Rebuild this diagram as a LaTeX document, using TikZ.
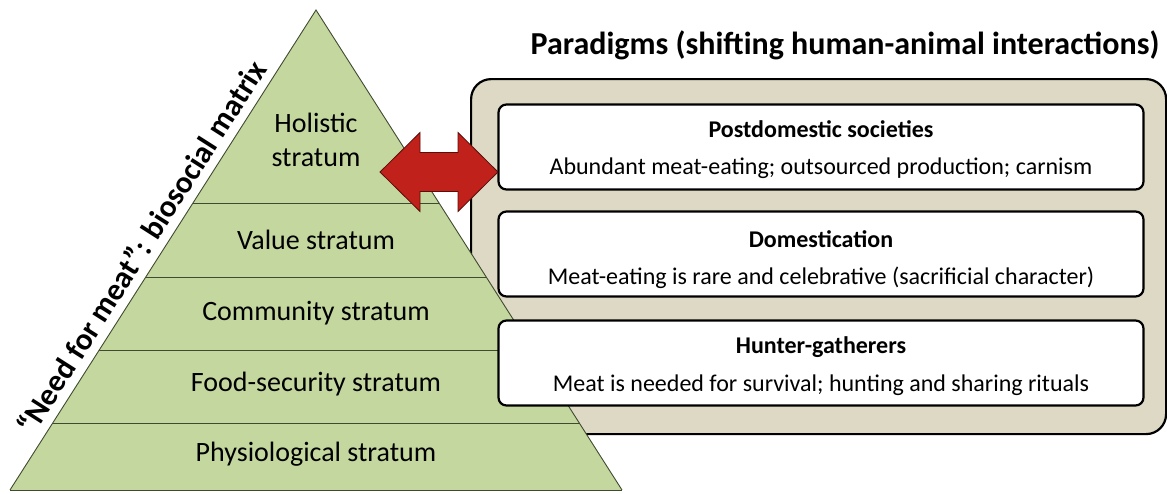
\documentclass[tikz,border=0pt]{standalone}
\usepackage{fontspec}
\setmainfont{Carlito}
\usetikzlibrary{calc}
\definecolor{pyrgreen}{HTML}{C4D79E}
\definecolor{tanbg}{HTML}{DDD9C4}
\definecolor{arrowred}{HTML}{C0211B}
\definecolor{arrowedge}{HTML}{5A0E0A}
\definecolor{pyrline}{HTML}{3F4A30}
\tikzset{
  framebox/.style={draw=black, line width=2.2pt, fill=tanbg, rounded corners=20pt, anchor=north west, inner sep=0pt},
  parbox/.style={draw=black, line width=2.2pt, fill=white, rounded corners=8pt, minimum width=645pt, minimum height=85pt, inner sep=0pt},
  partitle/.style={font=\bfseries\fontsize{24}{28}\selectfont, inner sep=0pt},
  partext/.style={font=\fontsize{24}{28}\selectfont, inner sep=0pt},
  strat/.style={font=\fontsize{28}{34}\selectfont, inner sep=0pt, align=center},
  stratline/.style={draw=pyrline, line width=0.9pt},
}
\begin{document}
\begin{tikzpicture}[x=1pt,y=-1pt]
\useasboundingbox (0,0) rectangle (1167,493);
% title
\node[font=\bfseries\fontsize{32}{36}\selectfont, inner sep=0pt] (title) at (845,45) {Paradigms (shifting human-animal interactions)};
% frame
\node[framebox, minimum width=695pt, minimum height=355pt] (frame) at (470,78) {};
% pyramid
\coordinate (L) at (10,490);
\coordinate (A) at (316,10);
\coordinate (R) at (622,490);
\fill[pyrgreen] (L) -- (A) -- (R) -- cycle;
\foreach \f/\n in {0.5979/a,0.44375/b,0.29167/c,0.13958/d}{
  \draw[stratline] ($(L)!\f!(A)$) -- ($(R)!\f!(A)$);
}
\draw[stratline] (L) -- (A) -- (R);
\draw[stratline] (L) -- (R);
% strata labels
\node[strat] (s1) at (316,140) {Holistic\\stratum};
\node[strat] (s2) at (316,240) {Value stratum};
\node[strat] (s3) at (316,313) {Community stratum};
\node[strat] (s4) at (316,384) {Food-security stratum};
\node[strat] (s5) at (316,454) {Physiological stratum};
% rotated label
\node[font=\bfseries\fontsize{31}{34}\selectfont, inner sep=0pt, rotate=57.48, anchor=base] (need) at (150.5,252.9) {“Need for meat”: biosocial matrix};
% paradigm boxes
\node[parbox] (post) at (821,147) {};
\node[partitle] (postT) at (821,129) {Postdomestic societies};
\node[partext] (postD) at (821,168) {Abundant meat-eating; outsourced production; carnism};
\node[parbox] (dom) at (821,254) {};
\node[partitle] (domT) at (821,239) {Domestication};
\node[partext] (domD) at (821,278) {Meat-eating is rare and celebrative (sacrificial character)};
\node[parbox] (hunt) at (821,363) {};
\node[partitle] (huntT) at (821,347) {Hunter-gatherers};
\node[partext] (huntD) at (821,385) {Meat is needed for survival; hunting and sharing rituals};
% double arrow
\filldraw[fill=arrowred, draw=arrowedge, line width=0.8pt, line join=miter]
  (380,172) -- (420,132.5) -- (420,152.5) -- (458,152.5) -- (458,132.5) -- (498,172)
  -- (458,211.5) -- (458,191.5) -- (420,191.5) -- (420,211.5) -- cycle;
\end{tikzpicture}
\end{document}
